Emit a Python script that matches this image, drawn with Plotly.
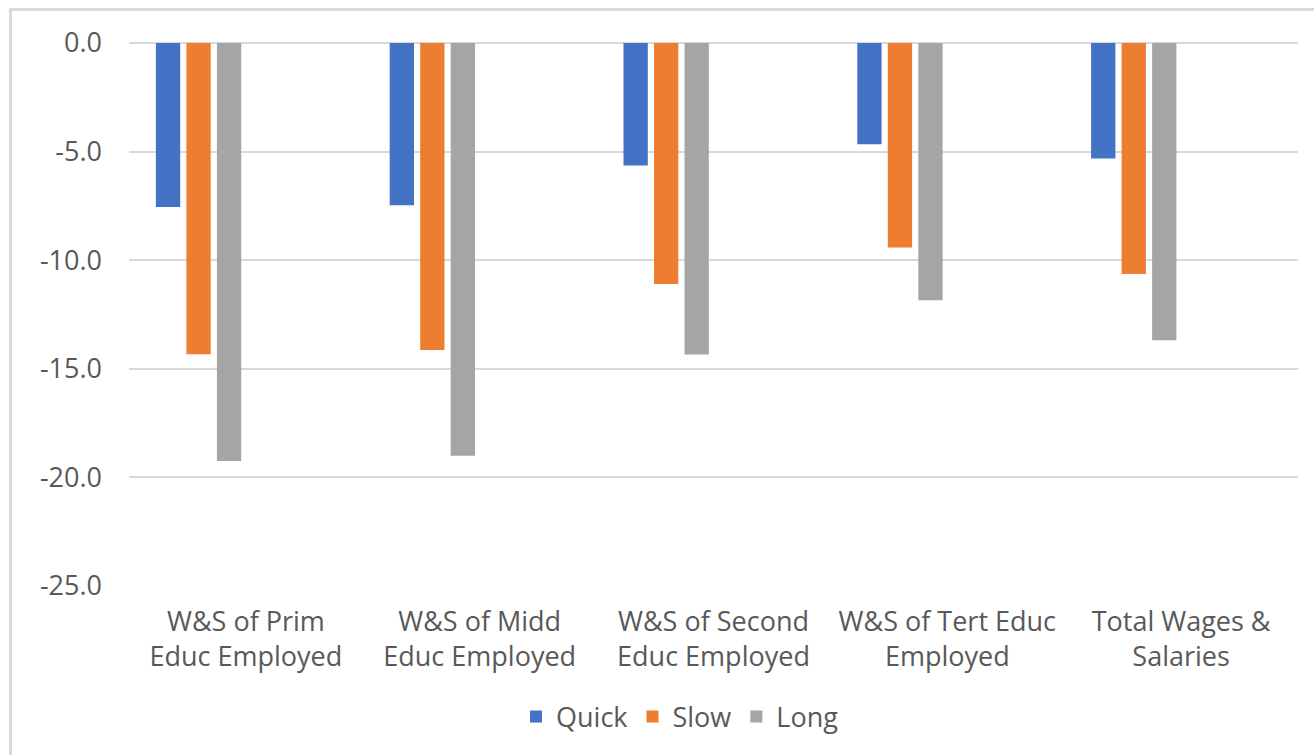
import plotly.graph_objects as go

categories = [
    "W&S of Prim<br>Educ Employed",
    "W&S of Midd<br>Educ Employed",
    "W&S of Second<br>Educ Employed",
    "W&S of Tert Educ<br>Employed",
    "Total Wages &<br>Salaries",
]
quick = [-7.55, -7.47, -5.64, -4.66, -5.32]
slow = [-14.33, -14.14, -11.10, -9.42, -10.64]
long_ = [-19.25, -19.00, -14.34, -11.84, -13.68]
y_ticks = [0, -5, -10, -15, -20, -25]

series = [
    ("Quick", quick, "#4472C4", -0.385),
    ("Slow", slow, "#ED7D31", -0.2545),
    ("Long", long_, "#A5A5A5", -0.124),
]

W, H = 1314, 755
ML, MR, MT, MB = 129, 16, 43, 169
PW, PH = W - ML - MR, H - MT - MB

TEXT = "#595959"
GRID = "#D9D9D9"
FONT = "Open Sans"
FS = 27

fig = go.Figure()
for name, vals, color, off in series:
    fig.add_trace(go.Bar(
        name=name,
        x=categories,
        y=vals,
        offset=off,
        width=0.104,
        marker=dict(color=color, line=dict(width=0)),
    ))


def px_x(px):
    return (px - ML) / PW


def px_y(py):
    return (H - MB - py) / PH


fig.update_layout(
    width=W,
    height=H,
    margin=dict(l=ML, r=MR, t=MT, b=MB),
    barmode="overlay",
    plot_bgcolor="white",
    paper_bgcolor="white",
    font=dict(family=FONT, size=FS, color=TEXT),
    showlegend=True,
    legend=dict(
        orientation="h",
        x=px_x(680),
        xanchor="center",
        y=px_y(717),
        yanchor="middle",
        font=dict(family=FONT, size=FS, color=TEXT),
        itemwidth=30,
        traceorder="normal",
    ),
    xaxis=dict(
        type="category",
        range=[-0.5, 4.5],
        showgrid=False,
        zeroline=False,
        showline=False,
        ticks="",
        ticklabelstandoff=17,
        tickfont=dict(family=FONT, size=FS, color=TEXT),
    ),
    yaxis=dict(
        range=[-25, 0],
        tickvals=y_ticks,
        ticktext=[f"{v:.1f}" for v in y_ticks],
        showgrid=True,
        gridcolor=GRID,
        gridwidth=2,
        zeroline=True,
        zerolinecolor=GRID,
        zerolinewidth=2,
        showline=False,
        ticks="",
        ticklabelstandoff=26,
        tickfont=dict(family=FONT, size=FS, color=TEXT),
    ),
    shapes=[
        dict(
            type="rect", xref="paper", yref="paper",
            x0=px_x(10.5), x1=px_x(W + 20),
            y0=px_y(H + 20), y1=px_y(9.5),
            line=dict(color=GRID, width=3),
            fillcolor="rgba(0,0,0,0)",
            layer="below",
        )
    ],
)

fig.write_html("out.html")
